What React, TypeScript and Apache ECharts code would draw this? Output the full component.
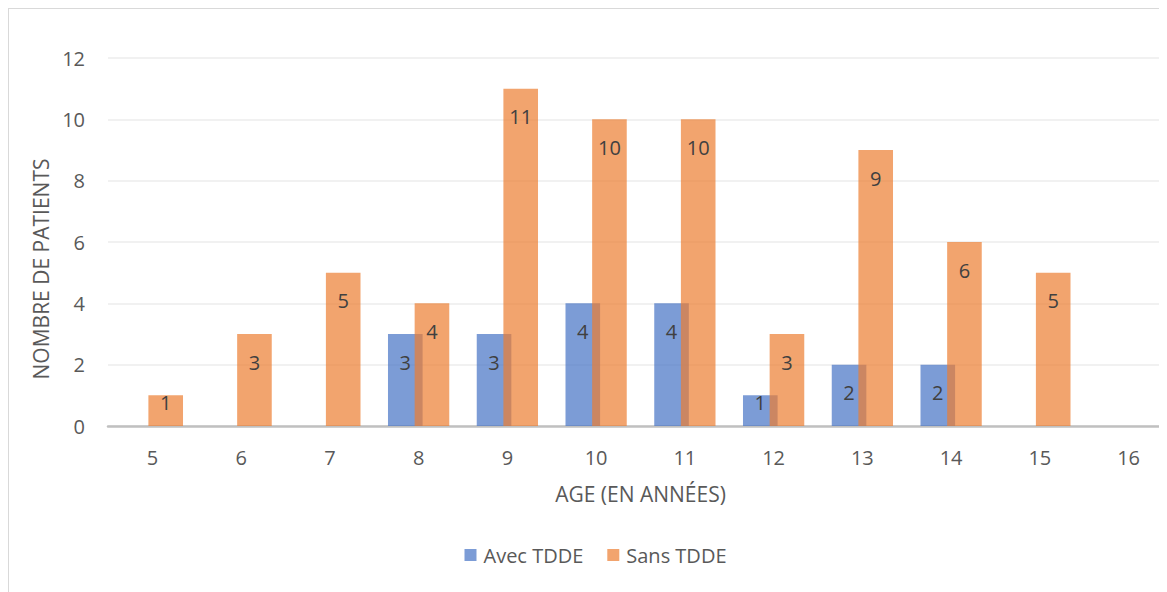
import React, { useEffect, useRef } from "react";
import * as echarts from "echarts";

const categories = ["5", "6", "7", "8", "9", "10", "11", "12", "13", "14", "15", "16"];
const avecTDDE: (number | null)[] = [null, null, null, 3, 3, 4, 4, 1, 2, 2, null, null];
const sansTDDE: (number | null)[] = [1, 3, 5, 4, 11, 10, 10, 3, 9, 6, 5, null];
const seriesNames = ["Avec TDDE", "Sans TDDE"];
const yTicks = { min: 0, max: 12, interval: 2 };

const FONT = "'Open Sans', 'Noto Sans', sans-serif";
const TEXT = "#595959";

const toItems = (vals: (number | null)[]) =>
  vals.map((v) =>
    v == null
      ? { value: null }
      : { value: v, label: { distance: v <= 1 ? -3 : 18 } }
  );

export default function App() {
  const ref = useRef<HTMLDivElement>(null);
  useEffect(() => {
    if (!ref.current) return;
    const chart = echarts.init(ref.current, null, { renderer: "svg" });
    const labelCfg = {
      show: true,
      position: "insideTop",
      color: "#404040",
      fontSize: 20,
      fontFamily: FONT,
    };
    chart.setOption({
      animation: false,
      backgroundColor: "#ffffff",
      textStyle: { fontFamily: FONT },
      grid: { left: 99, right: 9, top: 49, bottom: 181, containLabel: false },
      legend: {
        data: seriesNames,
        left: "center",
        top: 531,
        itemWidth: 12,
        itemHeight: 12,
        itemGap: 24,
        icon: "rect",
        textStyle: { color: TEXT, fontSize: 20, fontFamily: FONT, padding: [0, 0, 0, 2] },
      },
      xAxis: {
        type: "category",
        data: categories,
        name: "AGE (EN ANNÉES)",
        nameLocation: "middle",
        nameGap: 57,
        nameTextStyle: { color: TEXT, fontSize: 21, fontFamily: FONT },
        axisLine: { show: true, lineStyle: { color: "#c0c0c0", width: 2.5 } },
        axisTick: { show: false },
        axisLabel: { color: TEXT, fontSize: 20, margin: 21, fontFamily: FONT },
      },
      yAxis: {
        type: "value",
        min: yTicks.min,
        max: yTicks.max,
        interval: yTicks.interval,
        name: "NOMBRE DE PATIENTS",
        nameLocation: "middle",
        nameRotate: 90,
        nameGap: 49,
        nameTextStyle: { color: TEXT, fontSize: 21, fontFamily: FONT, padding: [0, 54, 0, 0] },
        axisLine: { show: false },
        axisTick: { show: false },
        axisLabel: { color: TEXT, fontSize: 20, margin: 23, fontFamily: FONT },
        splitLine: { lineStyle: { color: "#ececec", width: 1.5 } },
      },
      series: [
        {
          name: seriesNames[0],
          type: "bar",
          data: toItems(avecTDDE),
          barWidth: "39%",
          barGap: "-23%",
          itemStyle: { color: "rgba(68,114,196,0.7)" },
          label: labelCfg,
          z: 2,
        },
        {
          name: seriesNames[1],
          type: "bar",
          data: toItems(sansTDDE),
          barWidth: "39%",
          barGap: "-23%",
          itemStyle: { color: "rgba(237,125,49,0.7)" },
          label: labelCfg,
          z: 3,
        },
      ],
    });
    return () => chart.dispose();
  }, []);
  return (
    <div style={{ width: 1159, height: 584, overflow: "hidden", position: "relative" }}>
      <div
        ref={ref}
        style={{
          width: 1175,
          height: 600,
          border: "1px solid #d9d9d9",
          boxSizing: "border-box",
        }}
      />
    </div>
  );
}
